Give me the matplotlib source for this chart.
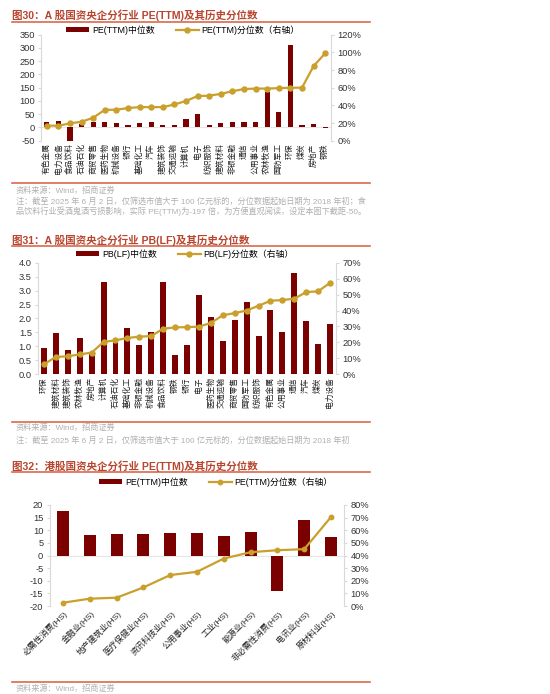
import matplotlib
matplotlib.use("Agg")
import numpy as np
from matplotlib import pyplot as plt
from matplotlib.lines import Line2D
from matplotlib.ticker import FuncFormatter, MultipleLocator

plt.rcParams['font.family'] = ['Liberation Sans', 'Noto Sans CJK SC', 'DejaVu Sans']
plt.rcParams['axes.unicode_minus'] = False

# Chart 30: A-share PE(TTM)
pe_a_cats = ["有色金属", "电力设备", "食品饮料", "石油石化", "商贸零售", "医药生物", "机械设备",
             "银行", "基础化工", "汽车", "建筑装饰", "交通运输", "计算机", "电子", "纺织服饰",
             "建筑材料", "非银金融", "通信", "公用事业", "农林牧渔", "国防军工", "环保", "煤炭",
             "房地产", "钢铁"]
pe_a_median = [20, 26, -197, 14, 22, 20, 16, 8, 17, 21, 11, 11, 32, 51, 11, 15, 20, 20, 20,
               132, 57, 313, 8, 14, -2]
pe_a_pct = [0.17, 0.17, 0.196, 0.215, 0.26, 0.35, 0.35, 0.37, 0.38, 0.38, 0.38, 0.41, 0.45,
            0.505, 0.51, 0.53, 0.56, 0.585, 0.59, 0.59, 0.595, 0.60, 0.60, 0.845, 0.99]

# Chart 31: A-share PB(LF)
pb_a_cats = ["环保", "建筑材料", "建筑装饰", "农林牧渔", "房地产", "计算机", "石油石化", "基础化工",
             "非银金融", "机械设备", "食品饮料", "钢铁", "银行", "电子", "医药生物", "交通运输",
             "商贸零售", "国防军工", "纺织服饰", "有色金属", "公用事业", "通信", "汽车", "煤炭",
             "电力设备"]
pb_a_median = [0.96, 1.49, 0.86, 1.31, 0.78, 3.32, 1.17, 1.67, 1.04, 1.50, 3.32, 0.68, 1.04,
               2.83, 2.04, 1.19, 1.95, 2.58, 1.39, 2.29, 1.50, 3.62, 1.92, 1.09, 1.81]
pb_a_pct = [0.063, 0.109, 0.113, 0.125, 0.136, 0.203, 0.213, 0.228, 0.236, 0.24, 0.286, 0.294,
            0.296, 0.299, 0.322, 0.37, 0.384, 0.40, 0.43, 0.461, 0.466, 0.474, 0.516, 0.52, 0.574]

# Chart 32: HK-share PE(TTM)
pe_hk_cats = ["必需性消费(HS)", "金融业(HS)", "地产建筑业(HS)", "医疗保健业(HS)", "资讯科技业(HS)",
              "公用事业(HS)", "工业(HS)", "能源业(HS)", "非必需性消费(HS)", "电讯业(HS)", "原材料业(HS)"]
pe_hk_median = [17.8, 8.0, 8.7, 8.4, 9.1, 9.1, 7.9, 9.2, -13.9, 13.9, 7.2]
pe_hk_pct = [0.026, 0.058, 0.066, 0.147, 0.245, 0.271, 0.376, 0.426, 0.442, 0.45, 0.705]

BAR = "#7B0000"
GOLD = "#C9A02C"
RULE = "#D9694C"
TITLE = "#B8452F"
SPINE = "#D9D9D9"
NOTE = "#B0B0B0"

W, H = 550, 694
fig = plt.figure(figsize=(W / 100, H / 100), dpi=100)


def fx(px):
    return px / W


def fy(py):
    return 1 - py / H


def axes_px(x0, y0, x1, y1):
    return fig.add_axes([fx(x0), fy(y1), (x1 - x0) / W, (y1 - y0) / H])


def rule(py):
    fig.add_artist(Line2D([fx(12), fx(370)], [fy(py), fy(py)], transform=fig.transFigure,
                          color=RULE, lw=1.2))


def header(title, ty, ry):
    fig.text(fx(12), fy(ty), title, color=TITLE, fontsize=7.6, fontweight="bold", va="center")
    rule(ry)


def note(text, py):
    fig.text(fx(16), fy(py), text, color=NOTE, fontsize=5.9, va="center")


def style(ax, ax2):
    for a in (ax, ax2):
        a.spines["top"].set_visible(False)
        a.spines["bottom"].set_visible(False)
        a.spines["left"].set_color(SPINE)
        a.spines["right"].set_color(SPINE)
        a.tick_params(axis="y", labelsize=6.7, colors="#333333", length=2.5, pad=2, color=SPINE)
    ax.tick_params(axis="x", length=0, pad=2)
    ax.set_zorder(ax2.get_zorder() + 1)
    ax.patch.set_visible(False)


pct_fmt = FuncFormatter(lambda v, _: f"{v * 100:.0f}%")


def panel(box, cats, bars, pct, ylim, ystep, rlim, rstep, fmt_left, bar_label, line_label,
          legend_xy, width, ms, rot):
    ax2 = axes_px(*box)
    ax = fig.add_axes(ax2.get_position())
    x = np.arange(len(cats))
    bc = ax.bar(x, bars, width=width, color=BAR, zorder=2)
    ax.axhline(0, color="#E6E6E6", lw=0.8, zorder=1)
    ax2.yaxis.tick_right()
    ax2.set_xticks([])
    ax2.set_ylim(*rlim)
    ax2.yaxis.set_major_locator(MultipleLocator(rstep))
    ax2.yaxis.set_major_formatter(pct_fmt)
    # line drawn on the right-axis scale, mapped into the bar axes
    lo, hi = ylim
    rlo, rhi = rlim
    yline = [lo + (p - rlo) / (rhi - rlo) * (hi - lo) for p in pct]
    ln, = ax.plot(x, yline, color=GOLD, lw=1.6, marker="o", ms=ms, zorder=3)
    ax.set_xlim(-0.5, len(cats) - 0.5)
    ax2.set_xlim(-0.5, len(cats) - 0.5)
    ax.set_ylim(*ylim)
    ax.yaxis.set_major_locator(MultipleLocator(ystep))
    ax.yaxis.set_major_formatter(FuncFormatter(fmt_left))
    ax.set_xticks(x)
    if rot == 90:
        ax.set_xticklabels(cats, rotation=90, fontsize=5.6, color="#222222", va="top", ha="center")
    else:
        ax.set_xticklabels(cats, rotation=45, fontsize=6.0, color="#222222", ha="right",
                           rotation_mode="anchor")
    style(ax, ax2)
    ax.spines["right"].set_visible(False)
    ax2.spines["left"].set_visible(False)
    ax.legend([bc, ln], [bar_label, line_label], loc="center",
              bbox_to_anchor=(fx(legend_xy[0]), fy(legend_xy[1])),
              bbox_transform=fig.transFigure, ncol=2, frameon=False, fontsize=6.4,
              handlelength=2.6, handleheight=0.5, columnspacing=2.4, handletextpad=0.3,
              borderpad=0)
    return ax, ax2


# ---- Chart 30 ----
header("图30：A 股国资央企分行业 PE(TTM)及其历史分位数", 15, 22)
panel((41, 34.7, 331, 140.7), pe_a_cats, pe_a_median, pe_a_pct, (-50, 350), 50, (0, 1.2), 0.2,
      lambda v, _: f"{v:.0f}", "PE(TTM)中位数", "PE(TTM)分位数（右轴）", (183, 30), 0.45, 3.6, 90)
rule(183)
note("资料来源：Wind，招商证券", 191)
note("注：截至 2025 年 6 月 2 日，仅筛选市值大于 100 亿元标的，分位数据起始日期为 2018 年初；食", 201.5)
note("品饮料行业受酒鬼酒亏损影响，实际 PE(TTM)为-197 倍，为方便直观阅读，设定本图下截距-50。", 211.5)

# ---- Chart 31 ----
header("图31：A 股国资央企分行业 PB(LF)及其历史分位数", 240, 246)
panel((38, 262.7, 336, 374.3), pb_a_cats, pb_a_median, pb_a_pct, (0, 4.0), 0.5, (0, 0.7), 0.1,
      lambda v, _: f"{v:.1f}", "PB(LF)中位数", "PB(LF)分位数（右轴）", (185, 254), 0.5, 3.6, 90)
rule(422)
note("资料来源：Wind，招商证券", 427.5)
note("注：截至 2025 年 6 月 2 日，仅筛选市值大于 100 亿元标的，分位数据起始日期为 2018 年初", 440.5)

# ---- Chart 32 ----
header("图32：港股国资央企分行业 PE(TTM)及其历史分位数", 466, 472)
panel((49.6, 505, 344.4, 606), pe_hk_cats, pe_hk_median, pe_hk_pct, (-20, 20), 5, (0, 0.8), 0.1,
      lambda v, _: f"{v:.0f}", "PE(TTM)中位数", "PE(TTM)分位数（右轴）", (216, 482), 0.45, 3.2, 45)
rule(682)
note("资料来源：Wind，招商证券", 689)

fig.savefig("out.png", dpi=100)
